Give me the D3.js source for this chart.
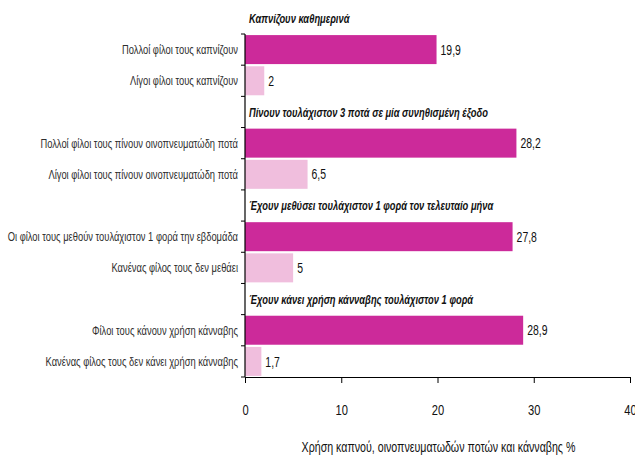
<!DOCTYPE html>
<html>
<head>
<meta charset="utf-8">
<script src="https://cdn.jsdelivr.net/npm/d3@7"></script>
<style>
  body { margin: 0; background: #fff; }
  svg { display: block; font-family: "Liberation Sans", Arial, sans-serif; }
</style>
</head>
<body>
<svg width="635" height="459"></svg>
<script>
// categories top to bottom, blank ones carry the group headers
const categories = [
	"Πολλοί φίλοι τους καπνίζουν",
	"Λίγοι φίλοι τους καπνίζουν",
	"h2",
	"Πολλοί φίλοι τους πίνουν οινοπνευματώδη ποτά",
	"Λίγοι φίλοι τους πίνουν οινοπνευματώδη ποτά",
	"h3",
	"Οι φίλοι τους μεθούν τουλάχιστον 1 φορά την εβδομάδα",
	"Κανένας φίλος τους δεν μεθάει",
	"h4",
	"Φίλοι τους κάνουν χρήση κάνναβης",
	"Κανένας φίλος τους δεν κάνει χρήση κάνναβης"
];
const values = [19.9, 2, null, 28.2, 6.5, null, 27.8, 5, null, 28.9, 1.7];
const shades = ["dark", "light", null, "dark", "light", null, "dark", "light", null, "dark", "light"];
const headers = [
	"Καπνίζουν καθημερινά",
	"Πίνουν τουλάχιστον 3 ποτά σε μία συνηθισμένη έξοδο",
	"Έχουν μεθύσει τουλάχιστον 1 φορά τον τελευταίο μήνα",
	"Έχουν κάνει χρήση κάνναβης τουλάχιστον 1 φορά"
];
const headerSlots = [null, "h2", "h3", "h4"];
const xTicks = [0, 10, 20, 30, 40];
const xTitle = "Χρήση καπνού, οινοπνευματωδών ποτών και κάνναβης %";

const colors = { dark: "#cc2a9a", light: "#f0bedd" };

const svg = d3.select("svg");
const plotLeft = 245, plotRight = 630, plotTop = 34, plotBottom = 377;
const sx = 0.72; // the picture's text is squeezed sideways

const x = d3.scaleLinear().domain([0, 40]).range([plotLeft, plotRight]);
const y = d3.scaleBand().domain(categories).range([plotTop, plotBottom]).paddingInner(0.07).paddingOuter(0.035);

const rows = categories.map((c, i) => ({ cat: c, value: values[i], shade: shades[i] })).filter(d => d.value !== null);

function place(px, py) {
	return `translate(${px},${py}) scale(${sx},1)`;
}

// bars
svg.append("g")
	.selectAll("rect")
	.data(rows)
	.join("rect")
	.attr("x", x(0))
	.attr("y", d => y(d.cat))
	.attr("width", d => x(d.value) - x(0))
	.attr("height", y.bandwidth())
	.attr("fill", d => colors[d.shade]);

// value labels
svg.append("g")
	.selectAll("text")
	.data(rows)
	.join("text")
	.attr("transform", d => place(x(d.value) + 4, y(d.cat) + y.bandwidth() / 2))
	.attr("dy", "0.35em")
	.attr("font-size", 14.5)
	.attr("fill", "#111")
	.text(d => String(d.value).replace(".", ","));

// category labels
svg.append("g")
	.selectAll("text")
	.data(rows)
	.join("text")
	.attr("transform", d => place(plotLeft - 7, y(d.cat) + y.bandwidth() / 2))
	.attr("dy", "0.35em")
	.attr("text-anchor", "end")
	.attr("font-size", 13)
	.attr("fill", "#2e2e2e")
	.text(d => d.cat);

// group headers (first one sits one step above the plot)
svg.append("g")
	.selectAll("text")
	.data(headers)
	.join("text")
	.attr("transform", (d, i) => place(plotLeft + 4,
		headerSlots[i] ? y(headerSlots[i]) + y.bandwidth() / 2 : y(categories[0]) - y.step() / 2 - 1))
	.attr("dy", "0.35em")
	.attr("font-size", 13)
	.attr("font-weight", "bold")
	.attr("font-style", "italic")
	.attr("fill", "#111")
	.text(d => d);

// y axis line with ticks on the category boundaries
const yAxis = svg.append("g").attr("stroke", "#000");
yAxis.append("line")
	.attr("x1", plotLeft).attr("x2", plotLeft)
	.attr("y1", plotTop).attr("y2", plotBottom)
	.attr("stroke-width", 1.2);
yAxis.selectAll(".bt")
	.data(d3.range(categories.length + 1))
	.join("line")
	.attr("x1", plotLeft - 4).attr("x2", plotLeft)
	.attr("y1", i => plotTop + i * y.step())
	.attr("y2", i => plotTop + i * y.step());

// x axis
const xAxis = svg.append("g")
	.attr("transform", `translate(0,${plotBottom})`)
	.call(d3.axisBottom(x).tickValues(xTicks).tickSize(6).tickSizeOuter(0));
xAxis.select(".domain").attr("stroke", "#000").attr("stroke-width", 1.2);
xAxis.selectAll(".tick line").attr("stroke", "#000");
xAxis.selectAll(".tick text")
	.attr("y", null)
	.attr("transform", place(0, 33))
	.attr("dy", "0.35em")
	.attr("font-family", "inherit")
	.attr("font-size", 15.5)
	.attr("fill", "#111");

svg.append("text")
	.attr("transform", place((plotLeft + plotRight) / 2 + 1, 447))
	.attr("dy", "0.35em")
	.attr("text-anchor", "middle")
	.attr("font-size", 14.8)
	.attr("fill", "#111")
	.text(xTitle);
</script>
</body>
</html>
